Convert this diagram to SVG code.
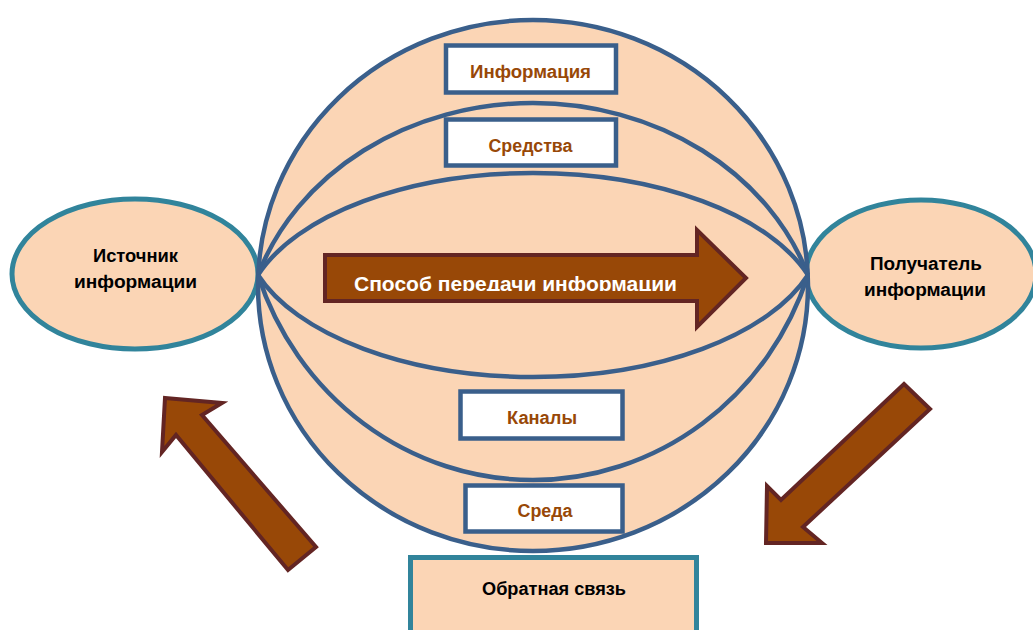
<svg xmlns="http://www.w3.org/2000/svg" width="1033" height="630" viewBox="0 0 1033 630">
<style>
.lbl{font-family:"Liberation Sans",Arial,sans-serif;font-weight:bold;text-anchor:middle}
.peach{fill:#FBD5B5}
.teal{stroke:#31849B;stroke-width:5}
.blue{stroke:#3A5F8B;stroke-width:4.5}
.box{fill:#FFFFFF;stroke:#3A5F8B;stroke-width:4.5}
.arr{fill:#984807;stroke:#632523;stroke-width:4;stroke-linejoin:miter}
.brown{fill:#984807;font-size:18px}
.black{fill:#000000;font-size:18px}
</style>
<defs>
<clipPath id="clipText"><rect x="325" y="240" width="380" height="51"/></clipPath>
</defs>
<rect width="1033" height="630" fill="#FFFFFF"/>
<g id="source">
<ellipse cx="135" cy="274" rx="123" ry="75" class="peach teal"/>
<text class="lbl black" x="135.5" y="262" textLength="85" lengthAdjust="spacingAndGlyphs">Источник</text>
<text class="lbl black" x="135.5" y="288" textLength="123" lengthAdjust="spacingAndGlyphs">информации</text>
</g>
<g id="receiver">
<ellipse cx="921" cy="274" rx="115" ry="74" class="peach teal"/>
<text class="lbl black" x="926" y="270" textLength="112" lengthAdjust="spacingAndGlyphs">Получатель</text>
<text class="lbl black" x="925" y="296" textLength="122" lengthAdjust="spacingAndGlyphs">информации</text>
</g>
<g id="sphere">
<ellipse cx="533" cy="285.5" rx="275" ry="265.5" class="peach blue"/>
<g fill="none" class="blue">
<path d="M258,275 A290,252 0 0 1 808,275"/>
<path d="M258,275 A290,149.4 0 0 1 808,275"/>
<path d="M258,275 A290,149.4 0 0 0 808,275"/>
<path d="M258,275 A290,300.4 0 0 0 808,275"/>
</g>
</g>
<g id="info">
<rect x="446" y="45.5" width="170" height="47" class="box"/>
<text class="lbl brown" x="530.5" y="78" textLength="121" lengthAdjust="spacingAndGlyphs">Информация</text>
</g>
<g id="means">
<rect x="446" y="119.5" width="170" height="46" class="box"/>
<text class="lbl brown" x="530.5" y="152" textLength="84" lengthAdjust="spacingAndGlyphs">Средства</text>
</g>
<g id="channels">
<rect x="460.5" y="391.5" width="162" height="47" class="box"/>
<text class="lbl brown" x="542" y="424" textLength="70" lengthAdjust="spacingAndGlyphs">Каналы</text>
</g>
<g id="environment">
<rect x="465.5" y="485.5" width="157" height="46" class="box"/>
<text class="lbl brown" x="545" y="517" textLength="55" lengthAdjust="spacingAndGlyphs">Среда</text>
</g>
<g id="feedback">
<rect x="410.5" y="557.5" width="286" height="80" class="peach teal"/>
<text class="lbl black" x="554" y="595" textLength="144" lengthAdjust="spacingAndGlyphs">Обратная связь</text>
</g>
<g id="connectors">
<g id="transfer">
<polygon class="arr" points="325,255 697,255 697,230 746,278 697,327 697,301 325,301"/>
<text class="lbl" fill="#FFFFFF" font-size="20" x="515.5" y="291" textLength="323" lengthAdjust="spacingAndGlyphs" clip-path="url(#clipText)">Способ передачи информации</text>
</g>
<polygon class="arr" points="165,398 222,403 202,415 316,547 288,570 176,435 162,452"/>
<polygon class="arr" points="904,384 930,409 803,527 822,543 766,543 767,486 781,500"/>
</g>
</svg>
